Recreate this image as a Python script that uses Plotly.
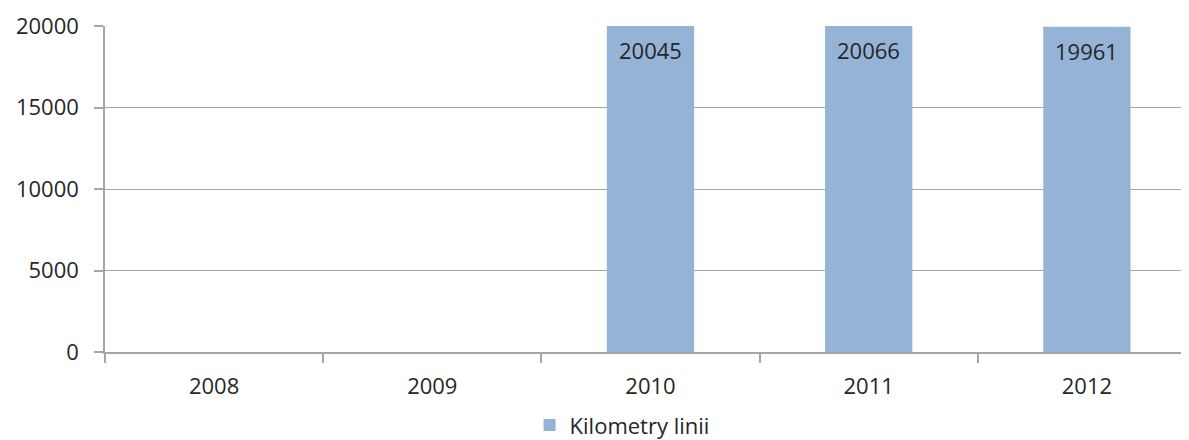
import plotly.graph_objects as go

years = ["2008", "2009", "2010", "2011", "2012"]
km_linii = [None, None, 20045, 20066, 19961]
series_name = "Kilometry linii"
y_ticks = [0, 5000, 10000, 15000, 20000]

FONT = "Open Sans"
TXT = "#262626"
GRID = "#a6a6a6"
FS = 22

fig = go.Figure()
fig.add_trace(go.Bar(
    x=years, y=km_linii, name=series_name,
    marker=dict(color="#95b3d7", line=dict(width=0)),
    width=0.4, cliponaxis=True,
))

for i, (yr, v) in enumerate(zip(years, km_linii)):
    if v is None:
        continue
    fig.add_annotation(
        x=i, y=min(v, y_ticks[-1]), text=str(v), showarrow=False,
        xref="x", yref="y",
        yanchor="top", yshift=-7,
        font=dict(family=FONT, size=FS, color=TXT),
    )

fig.update_layout(
    width=1181, height=432,
    margin=dict(l=97, r=0, t=18, b=88, autoexpand=False),
    paper_bgcolor="white", plot_bgcolor="white",
    font=dict(family=FONT, size=FS, color=TXT),
    showlegend=True,
    legend=dict(orientation="h", x=0.477, xanchor="center",
                y=-0.16, yanchor="top",
                font=dict(family=FONT, size=FS, color=TXT),
                itemwidth=30),
)
fig.update_xaxes(
    type="category", range=[-0.5, 4.468], automargin=False,
    showline=True, linecolor=GRID, linewidth=1.5,
    ticks="outside", tickson="boundaries", ticklen=9, tickcolor=GRID, tickwidth=1.5,
    showgrid=False, ticklabelstandoff=14,
    tickfont=dict(family=FONT, size=FS, color=TXT),
)
fig.update_yaxes(
    range=[0, 20000], tickvals=y_ticks, tickformat="d", automargin=False,
    showline=True, linecolor=GRID, linewidth=1.5,
    ticks="outside", ticklen=9, tickcolor=GRID, tickwidth=1.5,
    showgrid=True, gridcolor=GRID, gridwidth=1.2,
    zeroline=False, ticklabelstandoff=11,
    tickfont=dict(family=FONT, size=FS, color=TXT),
)

fig.write_html("out.html")
